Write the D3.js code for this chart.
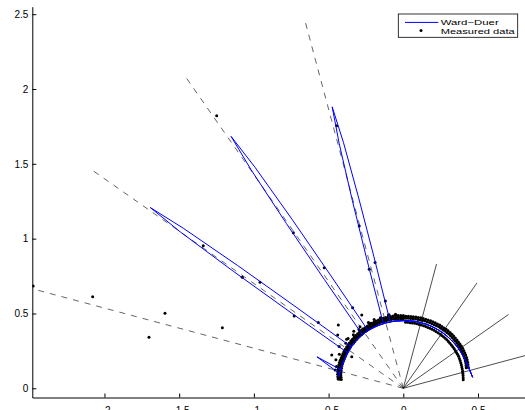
<!DOCTYPE html>
<html><head><meta charset="utf-8">
<script src="https://cdn.jsdelivr.net/npm/d3@7"></script>
<style>body{margin:0;background:#fff}text{font-family:"Liberation Sans",Arial,Helvetica,sans-serif}</style>
</head><body><svg id="c" width="525" height="410"></svg>
<script>
// ---------- data ----------
const xTicks = [-2, -1.5, -1, -0.5, 0, 0.5];
const yTicks = [0, 0.5, 1, 1.5, 2, 2.5];
const incidentAngles = [15, 35, 55, 75];     // degrees, solid lines
const incidentLength = 0.86;
const mirrorAngles = [165, 145, 125, 105];   // degrees, dashed lines
const mirrorLength = 2.54;

// Ward-Duer model curves (polar: angle deg, radius)
const wardArcAngles = [9,12,15,20,25,30,35,40,45,50,55,60,65,70,75,80,85,90,95,100,105,110,115,120,125,130,135,140,145,150,155,160,165,170];
const wardArcRadii  = [0.470,0.465,0.461,0.457,0.456,0.455,0.455,0.455,0.455,0.455,0.455,0.455,0.455,0.455,0.454,0.454,0.453,0.452,0.452,0.452,0.452,0.452,0.452,0.452,0.451,0.450,0.448,0.446,0.443,0.440,0.438,0.436,0.437,0.440];
const lobe1Angles = [101.2,102.6,103.2,103.7,104.2,104.7,105.2,105.8,107.2];
const lobe1Radii  = [0.452,0.90,1.30,1.69,1.94,1.69,1.30,0.90,0.452];
const lobe2Angles = [121.4,122.8,123.4,123.9,124.4,124.9,125.4,126.0,127.4];
const lobe2Radii  = [0.451,0.90,1.35,1.78,2.04,1.78,1.35,0.90,0.451];
const lobe3Angles = [141.5,142.9,143.5,144.0,144.5,145.0,145.5,146.1,147.5];
const lobe3Radii  = [0.445,0.90,1.38,1.82,2.08,1.82,1.38,0.90,0.442];
const lobe4Angles = [163.5,160.0,167.0];
const lobe4Radii  = [0.437,0.615,0.437];

// Measured data: dense arc (polar), three rows of samples
const arcAngles = [8,10,12,14,16,18,20,22,24,26,28,30,32,34,36,38,40,42,44,46,48,50,52,54,56,58,60,62,64,66,68,70,72,74,76,78,80,82,84,86,88,90,92,94,96,98,100,102,104,106,108,110,112,114,116,118,120,122,124,126,128,130,132,134,136,138,140,142,144,146,148,150,152,154,156,158,160,162,164,166,168,170,172];
const arcR1 = [null,null,null,null,null,
 0.457,0.461,0.465,0.468,0.471,0.473,0.475,0.477,0.479,0.480,
 0.481,0.482,0.483,0.484,0.485,0.486,0.487,0.487,0.488,0.487,
 0.487,0.488,0.487,0.487,0.486,0.487,0.486,0.486,0.485,0.485,
 0.484,0.484,0.483,0.483,0.483,0.482,
 0.486,0.487,0.487,0.488,0.488,0.488,0.488,0.487,0.487,0.487,
 0.486,0.485,0.484,0.483,0.482,0.481,0.480,0.479,0.478,0.477,
 0.476,0.475,0.474,0.473,0.472,0.471,0.470,0.469,0.468,0.467,
 0.466,0.465,0.463,0.462,0.461,0.459,0.457,0.455,0.452,0.449,
 0.445,0.441];
const arcR2 = [null,null,null,null,null,
 0.443,0.447,0.451,0.454,0.457,0.459,0.461,0.463,0.465,0.466,
 0.467,0.468,0.469,0.470,0.471,0.472,0.473,0.473,0.474,0.473,
 0.473,0.474,0.473,0.473,0.472,0.473,0.472,0.472,0.471,0.471,
 0.470,0.470,0.469,0.469,0.469,0.468,
 0.475,0.476,0.476,0.477,0.477,0.477,0.477,0.476,0.476,0.476,
 0.475,0.474,0.473,0.472,0.471,0.470,0.469,0.468,0.467,0.466,
 0.465,0.464,0.463,0.462,0.461,0.460,0.459,0.458,0.457,0.456,
 0.455,0.454,0.452,0.451,0.450,0.448,0.446,0.444,0.441,0.438,
 0.434,0.430];
const arcR3 = [0.405,0.407,0.409,0.411,0.413,
 0.415,0.417,0.419,0.421,0.423,0.425,0.427,0.428,0.429,0.430,
 0.431,0.432,0.433,0.434,0.435,0.436,0.436,0.437,0.437,0.438,
 0.438,0.438,0.439,0.439,0.439,0.439,0.440,0.440,0.440,0.440,
 0.441,0.441,0.441,0.441,0.442,0.442,
 0.464,0.465,0.465,0.466,0.466,0.466,0.466,0.465,0.465,0.465,
 0.464,0.463,0.462,0.461,0.460,0.459,0.458,0.457,0.456,0.455,
 0.454,0.453,0.452,0.451,0.450,0.449,0.448,0.447,0.446,0.445,
 0.444,0.443,0.441,0.440,0.439,0.437,0.435,0.433,0.430,0.427,
 0.423,0.419];
// Measured data: loose points near the arc (polar)
const fuzzAngles = [96,101,108,113,118,127,131,133,138,142,147,152,157,162,165];
const fuzzRadii  = [0.497,0.500,0.495,0.500,0.498,0.493,0.505,0.490,0.497,0.488,0.512,0.485,0.490,0.470,0.472];
// Measured data: isolated points (cartesian)
const scatterX = [-1.249,-0.446,-0.736,-0.529,-1.339,-1.078,-0.959,-0.730,-0.569,-0.439,-0.379,-1.595,-1.211,-1.702,-2.477,-2.079,-0.295,-0.189,-0.228,-0.120,-0.339,-0.435,-0.479,-0.345,-0.290,-0.278,-0.223,-0.100];
const scatterY = [1.822,1.755,1.040,0.806,0.953,0.742,0.709,0.483,0.439,0.356,0.328,0.501,0.405,0.341,0.684,0.612,1.085,0.840,0.795,0.584,0.539,0.423,0.223,0.211,0.412,0.490,0.434,0.490];

const legendLabels = ["Ward\u2212Duer", "Measured data"];

// ---------- drawing ----------
const svg = d3.select("#c");
const x = d3.scaleLinear().domain([-2.483, 0.8146]).range([32.3, 525]);
const y = d3.scaleLinear().domain([-0.0615, 2.55]).range([397.5, 6.7]);
const rad = a => a * Math.PI / 180;
const pol = (a, r) => [r * Math.cos(rad(a)), r * Math.sin(rad(a))];
const line = d3.line().x(d => x(d[0])).y(d => y(d[1]));

svg.append("defs").append("clipPath").attr("id", "clip")
  .append("rect").attr("x", 32.3).attr("y", 0).attr("width", 525 - 32.3).attr("height", 397.5);
const plot = svg.append("g").attr("clip-path", "url(#clip)");

// incident directions (solid)
plot.selectAll(".inc").data(incidentAngles).join("path")
  .attr("d", a => line([[0, 0], pol(a, incidentLength)]))
  .attr("fill", "none").attr("stroke", "#000").attr("stroke-width", 0.7);
// mirror directions (dashed)
plot.selectAll(".mir").data(mirrorAngles).join("path")
  .attr("d", a => line([[0, 0], pol(a, mirrorLength)]))
  .attr("fill", "none").attr("stroke", "#222").attr("stroke-width", 0.7)
  .attr("stroke-dasharray", "6,6");

// measured data
const pts = [];
[arcR1, arcR2, arcR3].forEach(row => row.forEach((r, i) => { if (r != null) pts.push(pol(arcAngles[i], r)); }));
fuzzAngles.forEach((a, i) => pts.push(pol(a, fuzzRadii[i])));
scatterX.forEach((v, i) => pts.push([v, scatterY[i]]));
plot.selectAll(".pt").data(pts).join("circle")
  .attr("cx", d => x(d[0])).attr("cy", d => y(d[1])).attr("r", 1.5).attr("fill", "#000");

// Ward-Duer curves
const lobes = [[lobe1Angles, lobe1Radii], [lobe2Angles, lobe2Radii], [lobe3Angles, lobe3Radii], [lobe4Angles, lobe4Radii]];
lobes.forEach(([la, lr]) => {
  const lo = la[0], hi = la[la.length - 1];
  const p = [];
  wardArcAngles.forEach((a, i) => { if (a < lo) p.push(pol(a, wardArcRadii[i])); });
  la.forEach((a, i) => p.push(pol(a, lr[i])));
  wardArcAngles.forEach((a, i) => { if (a > hi) p.push(pol(a, wardArcRadii[i])); });
  plot.append("path").attr("d", line(p)).attr("fill", "none")
    .attr("stroke", "#0000ff").attr("stroke-width", 1);
});

// axes
const fmt = d3.format("");
const xa = svg.append("g").attr("transform", "translate(0,397.5)")
  .call(d3.axisBottom(x).tickValues(xTicks).tickFormat(fmt).tickSize(-4).tickSizeOuter(0).tickPadding(9.2));
const ya = svg.append("g").attr("transform", "translate(32.3,0)")
  .call(d3.axisLeft(y).tickValues(yTicks).tickFormat(fmt).tickSize(-4).tickSizeOuter(0).tickPadding(4));
[xa, ya].forEach(g => {
  g.selectAll("text").attr("font-size", 10).attr("fill", "#000")
    .style("font-family", '"Liberation Sans",Arial,sans-serif');
  g.selectAll("path,line").attr("stroke", "#000").attr("stroke-width", 1);
});

// legend
const lg = svg.append("g");
lg.append("rect").attr("x", 398.3).attr("y", 14).attr("width", 119.4).attr("height", 23.3)
  .attr("fill", "#fff").attr("stroke", "#000").attr("stroke-width", 0.8);
lg.append("line").attr("x1", 405).attr("x2", 438.3).attr("y1", 22.4).attr("y2", 22.4)
  .attr("stroke", "#0000ff").attr("stroke-width", 1);
lg.append("circle").attr("cx", 421).attr("cy", 30.4).attr("r", 1.5).attr("fill", "#000");
lg.append("text").attr("x", 440.7).attr("y", 25.2).attr("font-size", 7.6)
  .attr("textLength", 58).attr("lengthAdjust", "spacingAndGlyphs").text(legendLabels[0]);
lg.append("text").attr("x", 440.7).attr("y", 33.8).attr("font-size", 7.6)
  .attr("textLength", 74).attr("lengthAdjust", "spacingAndGlyphs").text(legendLabels[1]);
</script></body></html>
